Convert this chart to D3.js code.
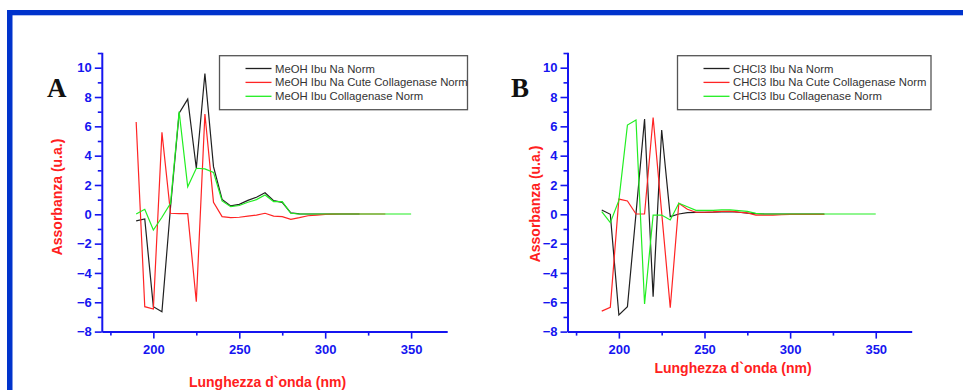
<!DOCTYPE html>
<html><head><meta charset="utf-8">
<script src="https://cdn.jsdelivr.net/npm/d3@7"></script>
<style>body{margin:0;background:#fff}svg{display:block}</style>
</head><body><svg id="c" width="963" height="390"></svg>
<script>
// ---- data ----
const wlA = [190,195,200,205,210,215,220,225,230,235,240,245,250,255,260,265,270,275,280,285,290,295,300,305,310,315,320,325,330,335,340,345,350];
const meohNa = [-0.45,-0.32,-6.3,-6.64,0.5,6.9,7.86,3.14,9.6,3.25,1.02,0.57,0.68,0.95,1.16,1.47,0.93,0.82,0.1,0.03,0.02,0.02,0.02,0.02,0.02,0.02,0.02];
const meohNaCute = [6.3,-6.3,-6.46,5.59,0.07,0.05,0.05,-5.96,6.84,0.82,-0.16,-0.23,-0.2,-0.13,-0.05,0.07,-0.12,-0.16,-0.34,-0.23,-0.1,-0.05,0,0.01,0.02,0.02,0.02,0.02,0.02,0.02];
const meohColl = [0.02,0.34,-1.07,-0.2,0.75,7.0,1.88,3.14,3.1,2.86,0.91,0.52,0.6,0.82,1.0,1.32,0.87,0.87,0.07,0.02,0.02,0.02,0.02,0.02,0.02,0.02,0.02,0.02,0.02,0.02,0.02,0.02,0.02];
const wlB = wlA;
const chclNa = [0.29,0.0,-6.87,-6.3,0.05,6.5,-5.62,5.75,-0.16,0.02,0.11,0.13,0.13,0.14,0.16,0.18,0.14,0.08,0.04,0.02,0.02,0.02,0.02,0.02,0.02,0.02,0.02];
const chclNaCute = [-6.6,-6.35,1.04,0.91,0.02,0.02,6.6,0.1,-6.37,0.75,0.34,0.14,0.14,0.16,0.2,0.22,0.15,0.1,-0.05,-0.05,-0.05,-0.03,0,0,0,0,0];
const chclColl = [0.18,-0.57,0.95,6.09,6.43,-6.12,-0.05,-0.05,-0.39,0.75,0.52,0.27,0.27,0.27,0.3,0.3,0.25,0.2,0.07,0.02,0.02,0.02,0.02,0.02,0.02,0.02,0.02,0.02,0.02,0.02,0.02,0.02,0.02];
const namesA = ["MeOH Ibu Na Norm","MeOH Ibu Na Cute Collagenase Norm","MeOH Ibu Collagenase Norm"];
const namesB = ["CHCl3 Ibu Na Norm","CHCl3 Ibu Na Cute Collagenase Norm","CHCl3 Ibu Collagenase Norm"];
const xMajor = [200,250,300,350];
const xMinor = [175,225,275,325];
const yMajor = [-8,-6,-4,-2,0,2,4,6,8,10];
const yMinor = [-7,-5,-3,-1,1,3,5,7,9,11];
const colors = ["#202020","#ff2424","#22ee22"];
const yTitle = "Assorbanza (u.a.)";
const xTitle = "Lunghezza d`onda (nm)";

const svg = d3.select("#c");
svg.append("rect").attr("width",963).attr("height",390).attr("fill","#fff");
// frame
svg.append("rect").attr("x",7).attr("y",10).attr("width",956).attr("height",5.3).attr("fill","#0033cc");
svg.append("rect").attr("x",7).attr("y",10).attr("width",5.5).attr("height",380).attr("fill","#0033cc");

const FONT = "Arial, 'Liberation Sans', sans-serif";
const BLUE = "#1515f0";
const RED = "#ff2020";

function panel(o){
  const x = d3.scaleLinear().domain([170,371]).range([o.x0,o.x1]);
  const y = d3.scaleLinear().domain([-8,11.05]).range([331.6,52.3]);
  const g = svg.append("g");
  // x axis
  const gx = g.append("g").attr("transform",`translate(0,${y(-8)})`)
    .call(d3.axisBottom(x).tickValues(xMajor).tickSize(7).tickPadding(6).tickSizeOuter(0));
  g.append("g").attr("transform",`translate(0,${y(-8)})`)
    .call(d3.axisBottom(x).tickValues(xMinor).tickSize(4).tickFormat("").tickSizeOuter(0))
    .select(".domain").remove();
  const gy = g.append("g").attr("transform",`translate(${x(170)},0)`)
    .call(d3.axisLeft(y).tickValues(yMajor).tickSize(7).tickPadding(3).tickSizeOuter(0));
  g.append("g").attr("transform",`translate(${x(170)},0)`)
    .call(d3.axisLeft(y).tickValues(yMinor).tickSize(4).tickFormat("").tickSizeOuter(0))
    .select(".domain").remove();
  g.selectAll(".domain").attr("stroke",BLUE).attr("stroke-width",2);
  g.selectAll(".tick line").attr("stroke",BLUE).attr("stroke-width",1.6);
  g.selectAll(".tick text").attr("fill",BLUE).attr("font-family",FONT)
    .attr("font-weight","bold").attr("font-size",13);
  // lines
  const line = d3.line().x(d=>x(d[0])).y(d=>y(d[1]));
  o.series.forEach((s,i)=>{
    g.append("path").datum(s.map((v,j)=>[o.wl[j],v]))
      .attr("d",line).attr("fill","none").attr("stroke",colors[i])
      .attr("stroke-width",1.2).attr("stroke-linejoin","miter");
  });
  // legend
  const lg = g.append("g");
  lg.append("rect").attr("x",o.lx).attr("y",55.7).attr("width",o.lw).attr("height",54)
    .attr("fill","#fff").attr("stroke","#555").attr("stroke-width",1.3);
  o.names.forEach((n,i)=>{
    const yy = 68.5 + i*13.9;
    lg.append("line").attr("x1",o.lx+26).attr("x2",o.lx+52).attr("y1",yy).attr("y2",yy)
      .attr("stroke",colors[i]).attr("stroke-width",1.3);
    lg.append("text").attr("x",o.lx+55.5).attr("y",yy+4).text(n)
      .attr("font-family",FONT).attr("font-size",11.3).attr("fill","#333");
  });
  // titles
  g.append("text").attr("transform",`translate(${o.ytx},${o.yty}) rotate(-90)`)
    .attr("text-anchor","middle").attr("font-family",FONT).attr("font-weight","bold")
    .attr("font-size",14).attr("fill",RED).text(yTitle);
  g.append("text").attr("x",o.xtx).attr("y",o.xty).attr("text-anchor","middle")
    .attr("font-family",FONT).attr("font-weight","bold").attr("font-size",14)
    .attr("fill",RED).text(xTitle);
  g.append("text").attr("x",o.lblx).attr("y",97).attr("font-family","'Liberation Serif','Times New Roman',serif")
    .attr("font-weight","bold").attr("font-size",27).attr("fill","#111").text(o.label);
}

panel({x0:101.8,x1:447.2,wl:wlA,series:[meohNa,meohNaCute,meohColl],names:namesA,
  lx:219.5,lw:248,ytx:62,yty:197,xtx:267.5,xty:387,lblx:47,label:"A"});
panel({x0:567.5,x1:911.7,wl:wlB,series:[chclNa,chclNaCute,chclColl],names:namesB,
  lx:677.5,lw:253.5,ytx:540,yty:204,xtx:733,xty:373,lblx:511,label:"B"});
</script></body></html>
